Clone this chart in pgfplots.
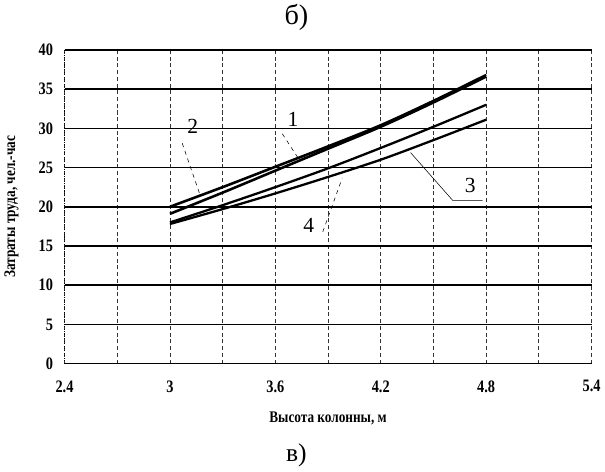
\documentclass[border=0pt]{standalone}
\usepackage{fontspec}
\setmainfont{Liberation Serif}
\newfontfamily\cond[FakeStretch=0.82]{Liberation Serif}
\usepackage{pgfplots}
\pgfplotsset{compat=1.18}
\begin{document}
\begin{tikzpicture}
\begin{axis}[
  scale only axis, width=391.5pt, height=233pt,
  xmin=2.4, xmax=5.4, ymin=0, ymax=40,
  xtick={2.4,3,3.6,4.2,4.8,5.4},
  xticklabels={2.4,3,3.6,4.2,4.8,5.4},
  minor xtick={2.7,3.3,3.9,4.5,5.1},
  ytick={0,5,...,40},
  /pgf/number format/assume math mode=true,
  xmajorgrids, xminorgrids, ymajorgrids,
  x grid style={black!80, densely dashed, line width=0.6pt},
  y grid style={black, line width=1.2pt},
  axis line style={draw=none},
  tick style={draw=none},
  ticklabel style={font=\cond\bfseries\fontsize{13}{15}\selectfont},
  xticklabel style={yshift=-9pt},
  yticklabel style={xshift=-5pt},
  xlabel={\cond\bfseries Высота колонны, м},
  xlabel style={font=\fontsize{12}{14}\selectfont, yshift=-8pt},
  ylabel={\cond\bfseries Затраты труда, чел.-час},
  ylabel style={font=\fontsize{12}{14}\selectfont, yshift=8pt},
  clip=false,
]
% curve 2
\addplot[black, line width=1.9pt, smooth] coordinates {(3,20.0) (3.3,22.5) (3.6,25.1) (3.9,27.7) (4.2,30.4) (4.5,33.5) (4.8,36.8)};
% curve 1
\addplot[black, line width=1.9pt, smooth] coordinates {(3,19.1) (3.3,21.8) (3.6,24.6) (3.9,27.4) (4.2,30.2) (4.5,33.3) (4.8,36.6)};
% curve 3
\addplot[black, line width=1.7pt, smooth] coordinates {(3,18.0) (3.3,20.2) (3.6,22.5) (3.9,24.9) (4.2,27.5) (4.5,30.2) (4.8,33.0)};
% curve 4
\addplot[black, line width=1.7pt, smooth] coordinates {(3,17.8) (3.3,19.7) (3.6,21.7) (3.9,23.8) (4.2,26.0) (4.5,28.5) (4.8,31.1)};
% leaders
\addplot[black, thin, dashed] coordinates {(3.07,28.1) (3.17,21.6)};
\addplot[black, thin, dashed] coordinates {(3.64,29.3) (3.73,26.2)};
\addplot[black, thin] coordinates {(4.37,26.9) (4.61,20.8) (4.78,20.8)};
\addplot[black, thin, dashed] coordinates {(3.87,16.8) (3.98,23.6)};
\node[font=\fontsize{16}{18}\selectfont] at (axis cs:3.13,30.3) {2};
\node[font=\fontsize{16}{18}\selectfont] at (axis cs:3.70,31.2) {1};
\node[font=\fontsize{16}{18}\selectfont] at (axis cs:4.71,22.7) {3};
\node[font=\fontsize{16}{18}\selectfont] at (axis cs:3.79,17.6) {4};
\draw[densely dotted, line width=0.8pt] (rel axis cs:0,0) -- (rel axis cs:0,1);
\node[font=\fontsize{21}{24}\selectfont] at ([yshift=24pt]axis cs:3.72,40) {б)};
\node[font=\fontsize{19}{22}\selectfont] at ([yshift=-68pt]axis cs:3.72,0) {в)};
\end{axis}
\end{tikzpicture}
\end{document}
